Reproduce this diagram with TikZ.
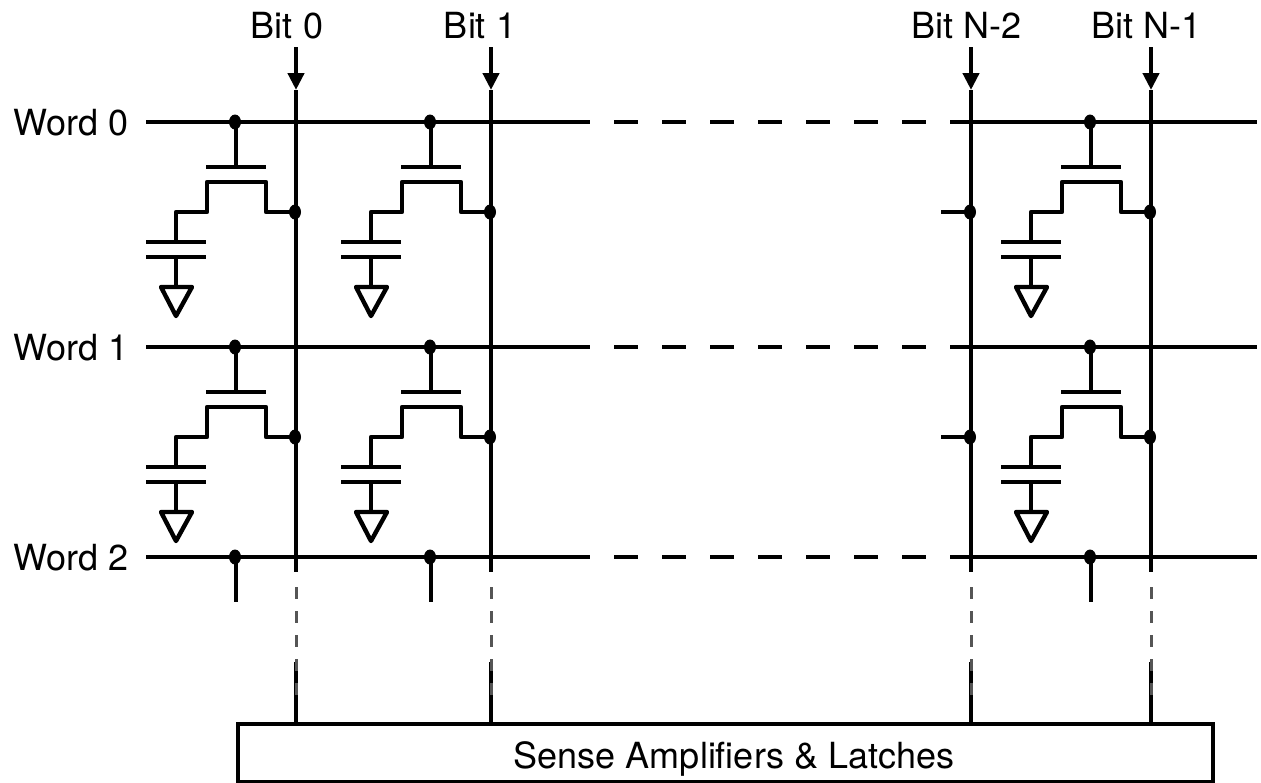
\documentclass[tikz,border=0pt]{standalone}
\usepackage{fontspec}
\setmainfont{TeX Gyre Heros}
\usetikzlibrary{arrows.meta,positioning}
\definecolor{faded}{HTML}{555555}
\tikzset{
  Wire/.style={line width=2.2pt, line join=round},
  WordDash/.style={Wire, dash pattern=on 12pt off 12pt, dash phase=12pt},
  BitDash/.style={line width=1.5pt, draw=faded, dash pattern=on 6pt off 6pt},
  BitDrive/.style={Wire, -{Triangle[length=8.5pt,width=8pt]}},
  Label/.style={font=\fontsize{18}{20}\selectfont, inner sep=0pt}
}
\newcommand{\TapDot}[1]{%
  % #1 = where the wire is tapped
  \fill (#1) ellipse [x radius=6, y radius=7.5];
}
\newcommand{\MemCell}[2]{%
  % #1 = gate x, #2 = word line y
  \begin{scope}[shift={(#1,#2)}]
    \TapDot{-1,0}
    \TapDot{59,90}
    \draw[Wire] (0,0)--(0,45);
    \draw[Wire] (-30,45)--(30,45);
    \draw[Wire] (59,90)--(30,90)--(30,60)--(-29,60)--(-29,90)--(-60,90)--(-60,120);
    \draw[Wire] (-90,120)--(-30,120);
    \draw[Wire] (-90,135)--(-30,135);
    \draw[Wire] (-60,135)--(-60,165);
    \draw[Wire] (-75,165)--(-44,165)--(-60,194)--cycle;
  \end{scope}
}

\begin{document}
\begin{tikzpicture}[x=0.5pt, y=-0.5pt]
  \useasboundingbox (0,0) rectangle (1261,782);

  % Labels and the amplifier block
  \node[Label, anchor=base east] (word0) at (129,135) {Word 0};
  \node[Label, anchor=base east] (word1) at (129,360) {Word 1};
  \node[Label, anchor=base east] (word2) at (129,570) {Word 2};
  \node[Label, anchor=base] (bit0) at (287,38) {Bit 0};
  \node[Label, anchor=base] (bit1) at (480,38) {Bit 1};
  \node[Label, anchor=base] (bitA) at (966,38) {Bit N-2};
  \node[Label, anchor=base] (bitB) at (1146,38) {Bit N-1};
  \node[Label, draw, line width=2.2pt, minimum width=487.5pt, minimum height=29pt, anchor=north west] (sense)
    at (236,722) {};
  \node[Label, anchor=base] (senseText) at (734,768) {Sense Amplifiers \& Latches};

  % Word lines
  \foreach \wy/\wname in {122/word0,347/word1,557/word2}{
    \coordinate (\wname-a) at (146,\wy);
    \coordinate (\wname-b) at (590,\wy);
    \coordinate (\wname-c) at (950,\wy);
    \coordinate (\wname-d) at (1257,\wy);
    \draw[Wire] (\wname-a)--(\wname-b);
    \draw[WordDash] (\wname-b)--(\wname-c);
    \draw[Wire] (\wname-c)--(\wname-d);
  }

  % Bit lines
  \foreach \bx/\bname in {296/bit0,491/bit1,971/bitA,1151/bitB}{
    \coordinate (\bname-top) at (\bx,47);
    \coordinate (\bname-tip) at (\bx,90);
    \coordinate (\bname-end) at (\bx,572);
    \coordinate (\bname-gap) at (\bx,587);
    \coordinate (\bname-low) at (\bx,662);
    \coordinate (\bname-over) at (\bx,696);
    \draw[BitDrive] (\bname-top)--(\bname-tip);
    \draw[Wire] (\bname-tip)--(\bname-end);
    \draw[Wire] (\bname-low)--(\bname-low |- sense.north);
    \draw[BitDash] (\bname-gap)--(\bname-over);
  }

  % Cells
  \foreach \gx in {236,431,1091}{
    \foreach \wy in {122,347}{
      \MemCell{\gx}{\wy}
    }
    \TapDot{\gx-1,557}
    \draw[Wire] (\gx,557)--(\gx,602);
  }

  % Stubs from the cells left out
  \foreach \wy in {212,437}{
    \draw[Wire] (941,\wy)--(970,\wy);
    \TapDot{970,\wy}
  }
\end{tikzpicture}
\end{document}
